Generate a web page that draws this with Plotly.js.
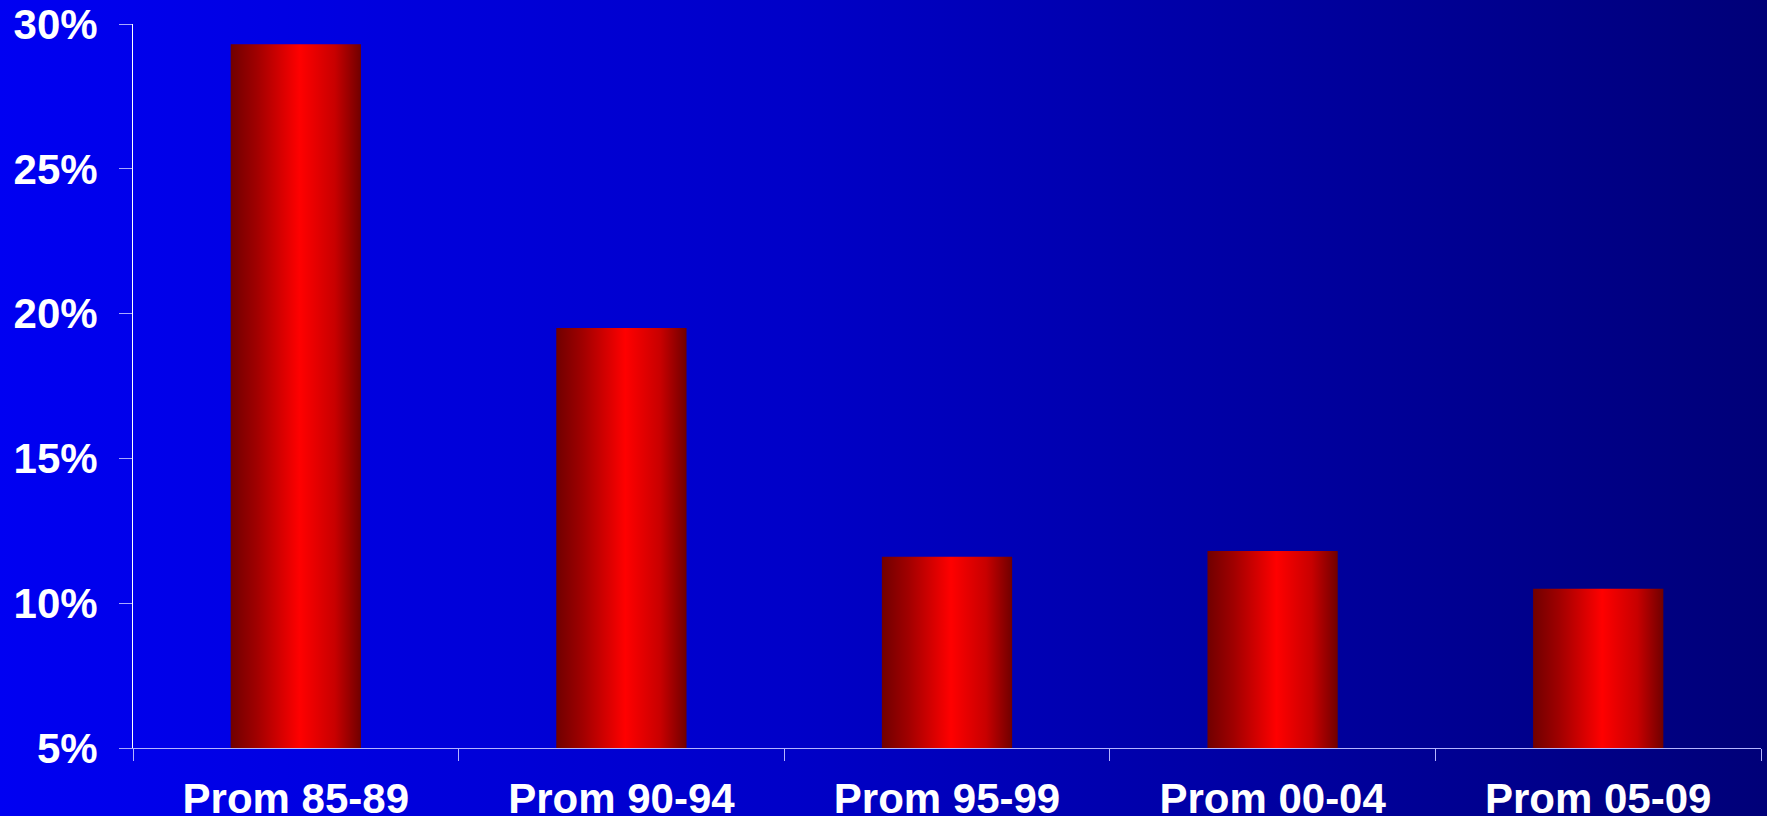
<!DOCTYPE html>
<html>
<head>
<meta charset="utf-8">
<script src="https://cdn.plot.ly/plotly-3.0.1.min.js"></script>
<style>
  html, body { margin: 0; padding: 0; width: 1767px; height: 816px; overflow: hidden; }
  #chart { width: 1767px; height: 816px; background: linear-gradient(to right, #0000f2 0%, #0000c8 45%, #000078 100%); }
</style>
</head>
<body>
<div id="chart"></div>
<script>
const categories = ["Prom 85-89", "Prom 90-94", "Prom 95-99", "Prom 00-04", "Prom 05-09"];
const values = [29.3, 19.5, 11.6, 11.8, 10.5];
const yTicks = [5, 10, 15, 20, 25, 30];

const font = { family: "Liberation Sans, Arial, sans-serif", size: 42, color: "#ffffff" };

const trace = {
  type: "bar",
  x: categories,
  y: values,
  width: 0.4,
  cliponaxis: true,
  marker: { color: "#ff0000", line: { width: 0 } },
  hoverinfo: "none"
};

const layout = {
  width: 1767,
  height: 816,
  margin: { l: 133, r: 6, t: 24, b: 68 },
  paper_bgcolor: "rgba(0,0,0,0)",
  plot_bgcolor: "rgba(0,0,0,0)",
  showlegend: false,
  font: font,
  xaxis: {
    type: "category",
    showgrid: false,
    zeroline: false,
    showline: true,
    linecolor: "#b4b4ff",
    linewidth: 1,
    ticks: "outside",
    tickson: "boundaries",
    ticklen: 12,
    tickcolor: "#b4b4ff",
    tickwidth: 1,
    tickfont: { family: font.family, size: 42, color: "#ffffff", weight: "bold" },
    ticklabelstandoff: 14
  },
  yaxis: {
    range: [5, 30],
    tickvals: yTicks,
    ticktext: yTicks.map(v => v + "%"),
    showgrid: false,
    zeroline: false,
    showline: true,
    linecolor: "#ffffff",
    linewidth: 1,
    ticks: "outside",
    ticklen: 13,
    tickcolor: "#a8a8ff",
    tickwidth: 1,
    tickfont: { family: font.family, size: 42, color: "#ffffff", weight: "bold" },
    ticklabelstandoff: 13
  }
};

function applyGradient(gd) {
  const svg = gd.querySelector("svg.main-svg");
  if (!svg) return;
  const ns = "http://www.w3.org/2000/svg";
  let defs = svg.querySelector("defs");
  if (!defs) { defs = document.createElementNS(ns, "defs"); svg.insertBefore(defs, svg.firstChild); }
  if (!svg.querySelector("#barGrad")) {
    const g = document.createElementNS(ns, "linearGradient");
    g.setAttribute("id", "barGrad");
    g.setAttribute("x1", "0"); g.setAttribute("y1", "0");
    g.setAttribute("x2", "1"); g.setAttribute("y2", "0");
    const stops = [[0, "#700000"], [0.2, "#a00000"], [0.53, "#ff0000"], [0.8, "#c80000"], [1, "#700000"]];
    stops.forEach(([o, c]) => {
      const s = document.createElementNS(ns, "stop");
      s.setAttribute("offset", o);
      s.setAttribute("stop-color", c);
      g.appendChild(s);
    });
    defs.appendChild(g);
  }
  gd.querySelectorAll(".barlayer .point path").forEach(p => { p.style.fill = "url(#barGrad)"; });
}

const gd = document.getElementById("chart");
Plotly.newPlot(gd, [trace], layout, { displayModeBar: false, staticPlot: true }).then(() => {
  applyGradient(gd);
  gd.on("plotly_afterplot", () => applyGradient(gd));
});
</script>
</body>
</html>
